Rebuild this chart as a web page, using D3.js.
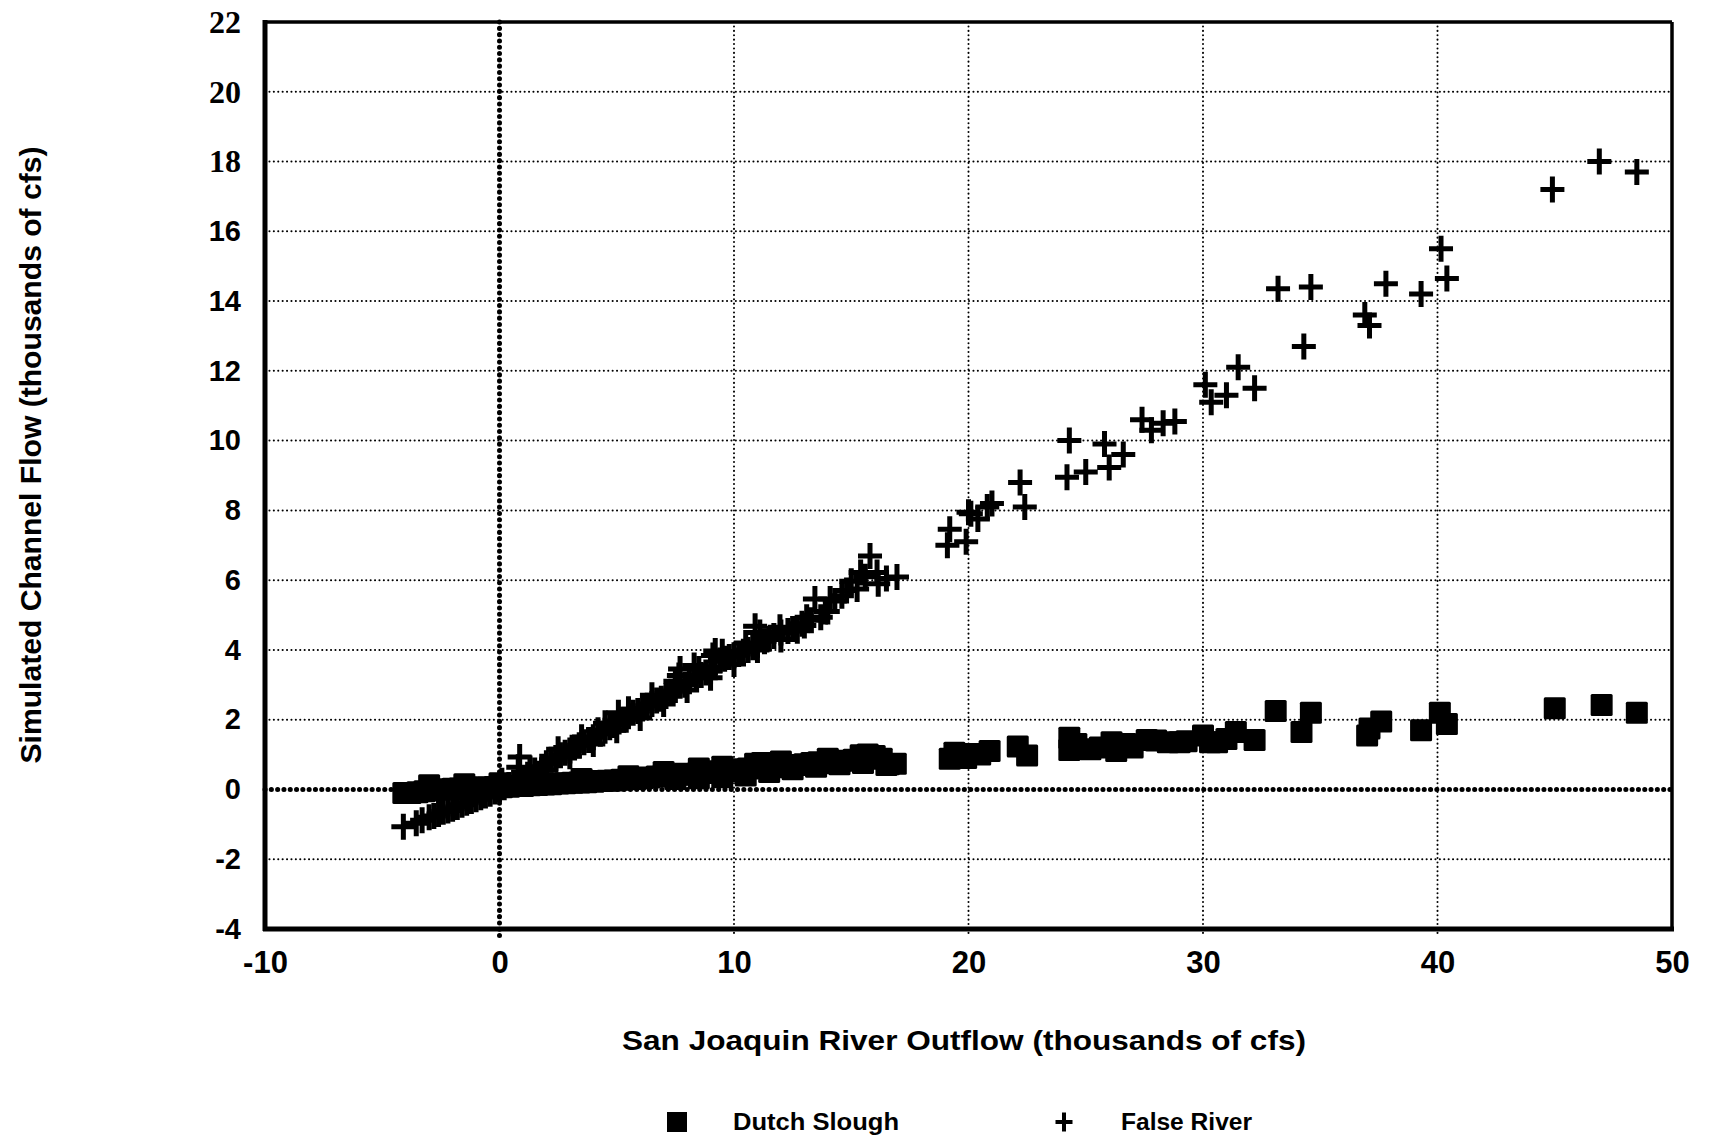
<!DOCTYPE html>
<html>
<head>
<meta charset="utf-8">
<script src="https://cdn.jsdelivr.net/npm/d3@7"></script>
<style>
  body { margin: 0; background: #fff; }
  svg { display: block; }
</style>
</head>
<body>
<svg id="chart" width="1712" height="1137"></svg>
<script>
// x tick labels and y tick labels
const xTicks = [-10, 0, 10, 20, 30, 40, 50];
const yTicks = [-4, -2, 0, 2, 4, 6, 8, 10, 12, 14, 16, 18, 20, 22];

const seriesNames = ['Dutch Slough', 'False River'];

// [San Joaquin outflow, simulated flow] in thousands of cfs
const dutchSlough = [
  [-4.1, -0.1], [-3.8, -0.1], [-3.5, -0.08], [-3.2, -0.05], [-2.9, -0.03], [-2.6, 0.0],
  [-2.3, 0.0], [-2.0, 0.02], [-1.7, 0.03], [-1.4, 0.05], [-1.1, 0.04], [-0.8, 0.06],
  [-0.5, 0.05], [-0.2, 0.07], [0.1, 0.06], [0.4, 0.08], [0.7, 0.1], [1.0, 0.1],
  [1.3, 0.12], [1.6, 0.13], [1.9, 0.14], [2.2, 0.15], [2.5, 0.17], [2.8, 0.18],
  [3.1, 0.19], [3.4, 0.2], [3.7, 0.21], [4.0, 0.22], [4.3, 0.24], [4.6, 0.25],
  [4.9, 0.26], [5.2, 0.28], [5.5, 0.29], [5.8, 0.3], [6.1, 0.32], [6.4, 0.34],
  [6.7, 0.37], [7.0, 0.4], [7.3, 0.38], [7.6, 0.42], [7.9, 0.45], [8.2, 0.43],
  [8.5, 0.5], [8.8, 0.47], [9.1, 0.52], [9.4, 0.5], [9.7, 0.55], [10.0, 0.52],
  [10.3, 0.58], [10.6, 0.6], [10.9, 0.74], [11.2, 0.76], [11.5, 0.62], [11.8, 0.64],
  [12.1, 0.66], [12.4, 0.68], [12.7, 0.7], [13.0, 0.72], [13.3, 0.76], [13.6, 0.78],
  [13.9, 0.75], [14.2, 0.78], [14.5, 0.8], [14.8, 0.82], [15.1, 0.85], [15.4, 0.98],
  [15.7, 1.0], [16.0, 0.96], [16.3, 0.88], [16.6, 0.72], [16.9, 0.74],
  [7.5, 0.3], [8.5, 0.32], [9.5, 0.35], [10.5, 0.4], [11.5, 0.5], [12.5, 0.58],
  [13.5, 0.65], [14.5, 0.72], [15.5, 0.76], [16.5, 0.7],
  [-3.0, 0.12], [-1.5, 0.15], [0.0, 0.18], [1.5, 0.22], [3.5, 0.3], [5.5, 0.38],
  [7.0, 0.5], [8.5, 0.6], [9.5, 0.65], [12.0, 0.8], [14.0, 0.88],
  [19.2, 0.88], [19.4, 1.05], [19.6, 0.95], [19.9, 0.9], [20.2, 1.02], [20.5, 1.0],
  [20.9, 1.1], [22.1, 1.23], [22.5, 0.97], [24.3, 1.48], [24.3, 1.13], [24.6, 1.3],
  [25.2, 1.15], [25.6, 1.2], [26.1, 1.35], [26.3, 1.1], [26.7, 1.3], [27.0, 1.2],
  [27.6, 1.42], [28.0, 1.4], [28.5, 1.35], [29.0, 1.35], [29.3, 1.38], [30.0, 1.55],
  [30.3, 1.35], [30.6, 1.35], [31.0, 1.45], [31.4, 1.65], [32.2, 1.42], [33.1, 2.25],
  [34.2, 1.65], [34.6, 2.2], [37.0, 1.55], [37.1, 1.75], [37.6, 1.95], [39.3, 1.7],
  [40.1, 2.2], [40.4, 1.88], [45.0, 2.33], [47.0, 2.42], [48.5, 2.2]
];

const falseRiver = [
  [-4.1, -1.07], [-3.55, -0.97], [-3.3, -0.88], [-3.0, -0.8], [-2.8, -0.76], [-2.6, -0.7],
  [-2.4, -0.64], [-2.2, -0.6], [-2.0, -0.55], [-1.8, -0.5], [-1.6, -0.44], [-1.4, -0.38],
  [-1.2, -0.33], [-1.0, -0.28], [-0.8, -0.22], [-0.6, -0.17], [-0.4, -0.12], [-0.2, -0.06],
  [0.0, 0.0], [0.1, 0.25], [0.2, 0.06], [0.4, 0.13], [0.6, 0.2], [0.8, 0.64],
  [0.86, 0.93], [0.9, 0.3], [1.2, 0.42], [1.3, 0.6], [1.5, 0.54], [1.8, 0.65],
  [2.0, 0.75], [2.2, 0.85], [2.4, 0.9], [2.6, 0.98], [2.8, 1.05], [3.0, 1.12],
  [3.2, 1.2], [3.4, 1.27], [3.6, 1.35], [3.8, 1.42], [4.0, 1.5], [4.2, 1.7],
  [4.3, 1.6], [4.5, 1.68], [4.7, 1.78], [4.9, 1.85], [5.07, 2.2], [5.1, 1.95],
  [5.3, 2.0], [5.5, 2.1], [5.7, 2.2], [5.9, 2.25], [6.1, 2.32], [6.3, 2.4],
  [6.5, 2.45], [6.7, 2.55], [6.9, 2.6], [7.1, 2.68], [7.3, 2.8], [7.5, 2.85],
  [7.65, 3.27], [7.7, 2.97], [7.7, 3.45], [7.9, 3.0], [8.1, 3.1], [8.3, 3.55],
  [8.4, 3.2], [8.6, 3.28], [8.8, 3.35], [9.0, 3.4], [9.1, 3.84], [9.2, 3.97],
  [9.2, 3.5], [9.4, 3.7], [9.6, 3.75], [9.8, 3.8], [10.0, 3.85], [10.2, 3.88],
  [10.4, 3.95], [10.6, 4.0], [10.8, 4.08], [10.9, 4.68], [11.0, 4.15], [11.1, 4.5],
  [11.3, 4.25], [11.5, 4.32], [11.7, 4.4], [11.96, 4.65], [12.0, 4.5], [12.3, 4.54],
  [12.5, 4.6], [12.7, 4.55], [12.9, 4.75], [13.1, 4.94], [13.3, 4.85], [13.45, 5.46],
  [13.7, 4.94], [13.9, 5.1], [14.1, 5.46], [14.3, 5.4], [14.6, 5.55], [14.8, 5.7],
  [15.0, 5.97], [15.25, 5.75], [15.4, 6.22], [15.6, 6.1], [15.8, 6.69], [16.1, 6.22],
  [16.15, 5.9], [16.5, 6.05], [16.95, 6.09],
  [1.0, 0.2], [2.0, 0.55], [3.0, 0.95], [4.0, 1.3], [5.0, 1.7], [6.0, 2.05],
  [7.0, 2.45], [8.0, 2.85], [9.0, 3.2], [10.0, 3.6], [11.0, 4.0], [12.0, 4.3],
  [13.0, 4.7], [14.0, 5.1], [2.5, 1.15], [3.5, 1.5], [4.5, 1.9], [5.5, 2.3],
  [6.5, 2.7], [7.5, 3.1], [8.5, 3.45], [9.5, 3.95], [10.5, 4.2],
  [19.1, 7.0], [19.2, 7.46], [19.9, 7.1], [20.0, 7.95], [20.1, 7.9], [20.4, 7.75],
  [20.8, 8.1], [21.0, 8.2], [22.2, 8.8], [22.4, 8.1], [24.2, 8.95], [24.3, 10.0],
  [25.0, 9.1], [25.8, 9.9], [26.0, 9.23], [26.6, 9.6], [27.4, 10.6], [27.8, 10.3],
  [28.3, 10.5], [28.8, 10.55], [30.1, 11.6], [30.35, 11.1], [31.0, 11.3], [31.5, 12.1],
  [32.2, 11.5], [33.2, 14.35], [34.3, 12.7], [34.6, 14.4], [36.9, 13.6], [37.1, 13.3],
  [37.8, 14.5], [39.3, 14.2], [40.15, 15.5], [40.4, 14.65], [44.9, 17.2], [46.9, 18.0],
  [48.5, 17.7]
];

const width = 1712, height = 1137;
const sans = '"Liberation Sans", Arial, sans-serif';
const serif = '"Liberation Serif", "Times New Roman", serif';

const svg = d3.select('#chart');
svg.append('rect').attr('width', width).attr('height', height).attr('fill', '#fff');

const x = d3.scaleLinear().domain([-10, 50]).range([265, 1672]);
const y = d3.scaleLinear().domain([-4, 22]).range([929, 22]);

// grid
const grid = svg.append('g');
grid.selectAll('.hgrid')
  .data(yTicks.filter(d => d !== 0 && d !== -4 && d !== 22))
  .enter().append('line')
  .attr('x1', x(-10)).attr('x2', x(50))
  .attr('y1', d => y(d)).attr('y2', d => y(d))
  .attr('stroke', '#000').attr('stroke-width', 2)
  .attr('stroke-linecap', 'round').attr('stroke-dasharray', '0.1 4.3');

grid.selectAll('.vgrid')
  .data(xTicks.filter(d => d !== 0 && d !== -10 && d !== 50))
  .enter().append('line')
  .attr('x1', d => x(d)).attr('x2', d => x(d))
  .attr('y1', y(22)).attr('y2', y(-4) + 8)
  .attr('stroke', '#000').attr('stroke-width', 2)
  .attr('stroke-linecap', 'round').attr('stroke-dasharray', '0.1 4.3');

// heavy zero lines
grid.append('line')
  .attr('x1', x(-10)).attr('x2', x(50)).attr('y1', y(0)).attr('y2', y(0))
  .attr('stroke', '#000').attr('stroke-width', 5)
  .attr('stroke-linecap', 'round').attr('stroke-dasharray', '0.1 6.2');
grid.append('line')
  .attr('x1', x(0)).attr('x2', x(0)).attr('y1', y(22)).attr('y2', y(-4) + 10)
  .attr('stroke', '#000').attr('stroke-width', 5)
  .attr('stroke-linecap', 'round').attr('stroke-dasharray', '0.1 6.2');

// Dutch Slough squares
svg.append('g').selectAll('rect')
  .data(dutchSlough)
  .enter().append('rect')
  .attr('x', d => x(d[0]) - 11)
  .attr('y', d => y(d[1]) - 11)
  .attr('width', 22).attr('height', 22)
  .attr('rx', 1.5)
  .attr('fill', '#000');

// False River crosses
svg.append('g').selectAll('path')
  .data(falseRiver)
  .enter().append('path')
  .attr('transform', d => `translate(${x(d[0])},${y(d[1])})`)
  .attr('d', 'M-12,0H12M0,-13V13')
  .attr('stroke', '#000').attr('stroke-width', 5)
  .attr('fill', 'none');

// frame
const frame = svg.append('g').attr('stroke', '#000').attr('fill', 'none');
frame.append('line').attr('x1', x(-10)).attr('x2', x(-10)).attr('y1', y(22) - 2).attr('y2', y(-4) + 2).attr('stroke-width', 5);
frame.append('line').attr('x1', x(-10) - 2).attr('x2', x(50) + 2).attr('y1', y(-4)).attr('y2', y(-4)).attr('stroke-width', 5);
frame.append('line').attr('x1', x(-10)).attr('x2', x(50)).attr('y1', y(22)).attr('y2', y(22)).attr('stroke-width', 3.5);
frame.append('line').attr('x1', x(50)).attr('x2', x(50)).attr('y1', y(22)).attr('y2', y(-4)).attr('stroke-width', 3.5);

// axes
const xAxis = svg.append('g')
  .attr('transform', `translate(0,${y(-4)})`)
  .call(d3.axisBottom(x).tickValues(xTicks).tickSize(0).tickPadding(22).tickFormat(d => String(d)));
xAxis.select('.domain').remove();
xAxis.selectAll('text')
  .style('font-size', '31px')
  .style('font-family', sans)
  .style('font-weight', 'bold')
  .attr('fill', '#000');

const yAxis = svg.append('g')
  .attr('transform', `translate(${x(-10)},0)`)
  .call(d3.axisLeft(y).tickValues(yTicks).tickSize(0).tickPadding(24).tickFormat(d => String(d)));
yAxis.select('.domain').remove();
yAxis.selectAll('text')
  .style('font-size', d => d >= 18 ? '32px' : '29px')
  .style('font-family', d => d >= 18 ? serif : sans)
  .style('font-weight', 'bold')
  .attr('fill', '#000');

// axis titles
svg.append('text')
  .attr('x', 964).attr('y', 1050)
  .attr('text-anchor', 'middle')
  .style('font-family', sans).style('font-weight', 'bold').style('font-size', '28px')
  .attr('textLength', 684).attr('lengthAdjust', 'spacingAndGlyphs')
  .text('San Joaquin River Outflow (thousands of cfs)');

svg.append('text')
  .attr('transform', 'translate(41,455) rotate(-90)')
  .attr('text-anchor', 'middle')
  .style('font-family', sans).style('font-weight', 'bold').style('font-size', '29px')
  .attr('textLength', 617).attr('lengthAdjust', 'spacingAndGlyphs')
  .text('Simulated Channel Flow  (thousands of cfs)');

// legend
const legend = svg.append('g');
legend.append('rect')
  .attr('x', 667).attr('y', 1112).attr('width', 20).attr('height', 20)
  .attr('fill', '#000');
legend.append('text')
  .attr('x', 733).attr('y', 1130)
  .style('font-family', sans).style('font-weight', 'bold').style('font-size', '23px')
  .attr('textLength', 166).attr('lengthAdjust', 'spacingAndGlyphs')
  .text(seriesNames[0]);
legend.append('path')
  .attr('transform', 'translate(1064,1122)')
  .attr('d', 'M-8.5,0H8.5M0,-9.5V9.5')
  .attr('stroke', '#000').attr('stroke-width', 4);
legend.append('text')
  .attr('x', 1121).attr('y', 1130)
  .style('font-family', sans).style('font-weight', 'bold').style('font-size', '23px')
  .attr('textLength', 131).attr('lengthAdjust', 'spacingAndGlyphs')
  .text(seriesNames[1]);
</script>
</body>
</html>
